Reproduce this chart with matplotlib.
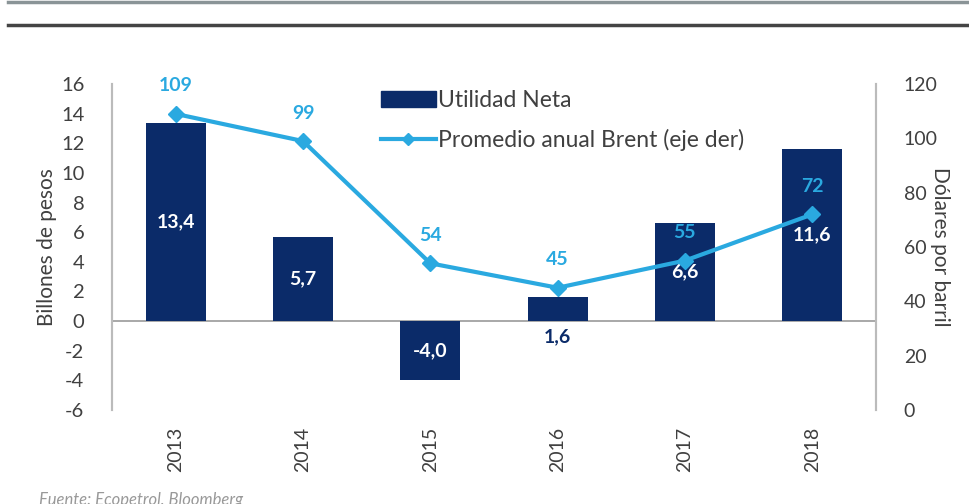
import matplotlib
matplotlib.use("Agg")
import matplotlib.pyplot as plt
from matplotlib.lines import Line2D
from matplotlib.patches import Patch
import numpy as np

years = ["2013", "2014", "2015", "2016", "2017", "2018"]
utilidad = [13.4, 5.7, -4.0, 1.6, 6.6, 11.6]
brent = [109, 99, 54, 45, 55, 72]
left_ticks = [16, 14, 12, 10, 8, 6, 4, 2, 0, -2, -4, -6]
right_ticks = [0, 20, 40, 60, 80, 100, 120]

navy = "#0b2b69"
light = "#2aa9e0"
grey_txt = "#404040"

plt.rcParams['font.family'] = ['Lato', 'DejaVu Sans']

fig = plt.figure(figsize=(9.7, 5.04), dpi=100)
ax = fig.add_axes([0.1155, 0.1865, 0.7875, 0.6468])
ax2 = ax.twinx()

x = np.arange(len(years))
ax.bar(x, utilidad, width=0.47, color=navy, zorder=2)
ax.axhline(0, color="#9a9a9a", lw=1.2, zorder=1)
ax.set_xlim(-0.5, 5.5)
ax.set_ylim(-6, 16)
ax.set_yticks(left_ticks)
ax.set_yticklabels([str(t) for t in left_ticks], fontsize=14.5, color=grey_txt)
ax.set_xticks(x)
ax.set_xticklabels(years, rotation=90, fontsize=14, color=grey_txt)
ax.tick_params(axis='y', length=0, pad=20)
ax.tick_params(axis='x', length=0, pad=12)
ax.set_ylabel("Billones de pesos", fontsize=15, color=grey_txt)
ax.yaxis.set_label_coords(-0.072, 0.5)

for i, v in enumerate(utilidad):
    if abs(v) < 3:
        ax.text(i, -0.5, f"{v:.1f}".replace(".", ","), ha='center', va='top',
                color=navy, fontsize=14, fontweight='bold', zorder=5)
    else:
        ax.text(i, v / 2, f"{v:.1f}".replace(".", ","), ha='center', va='center',
                color='white', fontsize=14, fontweight='bold', zorder=5)

ax2.plot(x, brent, color=light, lw=3, marker='D', markersize=8, zorder=4)
ax2.set_ylim(0, 120)
ax2.set_yticks(right_ticks)
ax2.set_yticklabels([str(t) for t in right_ticks], fontsize=14, color=grey_txt)
ax2.tick_params(axis='y', length=0, pad=20)
ax2.set_ylabel("Dólares por barril", fontsize=15, color=grey_txt, rotation=-90)
ax2.yaxis.set_label_coords(1.097, 0.5)

for i, v in enumerate(brent):
    ax2.annotate(str(v), (i, v), xytext=(0, 14), textcoords='offset points',
                 ha='center', va='bottom', color=light, fontsize=14, fontweight='bold')

for a in (ax, ax2):
    a.spines['top'].set_visible(False)
    a.spines['bottom'].set_visible(False)
    a.spines['left'].set_color("#bbbbbb")
    a.spines['right'].set_color("#bbbbbb")
    a.spines['left'].set_linewidth(1.5)
    a.spines['right'].set_linewidth(1.5)

handles = [Patch(color=navy),
           Line2D([0], [0], color=light, lw=3, marker='D', markersize=6)]
ax2.legend(handles, ["Utilidad Neta", "Promedio anual Brent (eje der)"],
           loc='upper left', bbox_to_anchor=(0.325, 1.045), frameon=False,
           fontsize=16.5, handlelength=2.4, handletextpad=0.1, labelspacing=0.8,
           labelcolor=grey_txt)

# header lines
fig.add_artist(Line2D([0.008, 1.0], [0.996, 0.996], color="#8a9497", lw=2.5))
fig.add_artist(Line2D([0.008, 1.0], [0.95, 0.95], color="#444444", lw=2.5))

fig.text(0.04, -0.008, "Fuente: Ecopetrol, Bloomberg", fontsize=12,
         style='italic', color="#999999", va='bottom')

fig.savefig("out.png", dpi=100)
